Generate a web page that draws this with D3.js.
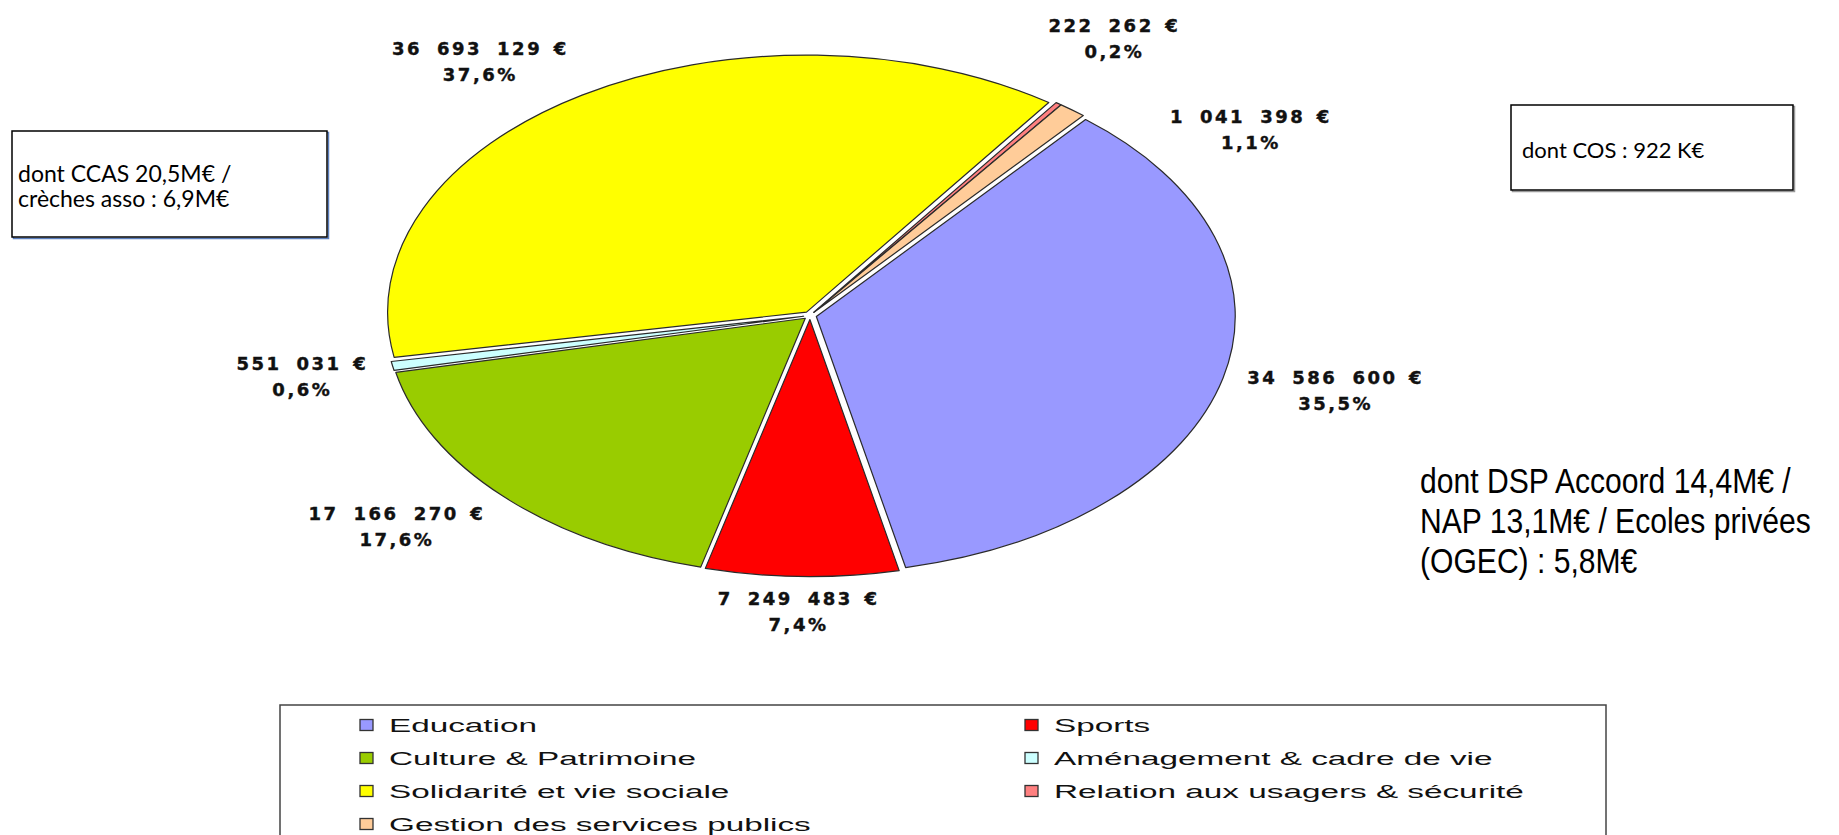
<!DOCTYPE html>
<html>
<head>
<meta charset="utf-8">
<script src="https://cdn.jsdelivr.net/npm/d3@7"></script>
<style>
  body { margin: 0; background: #fff; overflow: hidden; }
  svg { display: block; }
</style>
</head>
<body>
<svg id="chart" width="1839" height="835"></svg>
<script>
// Data
const categories = ["Education", "Sports", "Culture & Patrimoine", "Aménagement & cadre de vie",
                    "Solidarité et vie sociale", "Relation aux usagers & sécurité", "Gestion des services publics"];
const amounts = [34586600, 7249483, 17166270, 551031, 36693129, 222262, 1041398];
const colors = ["#9999ff", "#ff0000", "#99cc00", "#ccffff", "#ffff00", "#ff8080", "#ffcc99"];

const noteCCAS = ["dont CCAS 20,5M€ /", "crèches asso : 6,9M€"];
const noteCOS = ["dont COS : 922 K€"];
const noteDSP = ["dont DSP Accoord 14,4M€ /", "NAP 13,1M€ / Ecoles privées", "(OGEC) : 5,8M€"];

// Layout
const cx = 810, cy = 315.5, R = 257, sx = 1.63, explode = 4;
const startDeg = 40;

const svg = d3.select("#chart");

const rows = categories.map((c, i) => ({ name: c, amount: amounts[i], color: colors[i] }));
const total = d3.sum(amounts);

const a0 = startDeg * Math.PI / 180;
const pie = d3.pie().sort(null).value(d => d.amount).startAngle(a0).endAngle(a0 + 2 * Math.PI);
const arcs = pie(rows);
const arc = d3.arc().innerRadius(0).outerRadius(R);
const mid = d => (d.startAngle + d.endAngle) / 2;

// Pie (drawn as a circle, stretched horizontally)
const pieG = svg.append("g").attr("transform", `translate(${cx},${cy}) scale(${sx},1)`);
pieG.selectAll("path")
  .data(arcs)
  .join("path")
    .attr("transform", d => `translate(${Math.sin(mid(d)) * explode},${-Math.cos(mid(d)) * explode})`)
    .attr("d", arc)
    .attr("fill", d => d.data.color)
    .attr("stroke", "#2a2a2a")
    .attr("stroke-width", 1.2)
    .attr("stroke-linejoin", "round")
    .attr("vector-effect", "non-scaling-stroke");

// Value labels
const loc = d3.formatLocale({ decimal: ",", thousands: "\u2007", grouping: [3], currency: ["", ""] });
const fmtAmt = loc.format(",d");
const fmtPct = loc.format(".1f");

const boxH = 40, padX = 6, padY = 45;
const lblG = svg.append("g")
  .attr("font-family", "'DejaVu Sans', Verdana, sans-serif")
  .attr("font-weight", "bold")
  .attr("font-size", 18)
  .attr("letter-spacing", 2.5)
  .attr("fill", "#111")
  .attr("stroke", "#111")
  .attr("stroke-width", 0.4);

const labels = arcs.map(d => {
  const g = lblG.append("g");
  const t1 = g.append("text").attr("text-anchor", "middle").text(fmtAmt(d.data.amount) + "\u2002€");
  const t2 = g.append("text").attr("text-anchor", "middle").text(fmtPct(d.data.amount / total * 100) + "%");
  const w = Math.max(t1.node().getComputedTextLength(), t2.node().getComputedTextLength());
  return { g, t1, t2, w, a: mid(d), k: 1.075 };
});

function place(l) {
  const px = cx + Math.sin(l.a) * R * l.k * sx;
  const py = cy - Math.cos(l.a) * R * l.k;
  const fx = Math.max(-1, Math.min(1, 2 * Math.sin(l.a)));
  const fy = Math.max(-1, Math.min(1, 2 * Math.cos(l.a)));
  l.x = px + fx * l.w / 2;
  l.y = py - fy * boxH / 2;
}
function overlap(p, q) {
  return Math.abs(p.x - q.x) < (p.w + q.w) / 2 + padX && Math.abs(p.y - q.y) < boxH + padY;
}

labels.forEach(place);
// resolve collisions: earlier label moves back and outward, later one moves on along the rim
const step = Math.PI / 180;
for (let it = 0; it < 90; it++) {
  let moved = false;
  for (let i = 0; i < labels.length; i++) {
    for (let j = i + 1; j < labels.length; j++) {
      if (overlap(labels[i], labels[j])) {
        labels[i].a -= 0.4 * step;
        labels[i].k += 0.005;
        labels[j].a += step;
        place(labels[i]);
        place(labels[j]);
        moved = true;
      }
    }
  }
  if (!moved) break;
}

labels.forEach(l => {
  const top = l.y - boxH / 2;
  l.t1.attr("x", l.x).attr("y", top + 13);
  l.t2.attr("x", l.x).attr("y", top + 39);
});

// Legend
const legend = svg.append("g");
legend.append("rect")
  .attr("x", 280).attr("y", 705)
  .attr("width", 1326).attr("height", 160)
  .attr("fill", "#fff")
  .attr("stroke", "#444")
  .attr("stroke-width", 1.5);

const colX = d3.scaleOrdinal().domain([0, 1]).range([360, 1025]);
const rowY = d3.scaleLinear().domain([0, 1]).range([725, 758]);

const items = legend.selectAll("g.item")
  .data(rows)
  .join("g")
    .attr("class", "item")
    .attr("transform", (d, i) => `translate(${colX(i % 2)},${rowY(Math.floor(i / 2))})`);

items.append("rect")
  .attr("x", 0).attr("y", -5.5)
  .attr("width", 13).attr("height", 11)
  .attr("fill", d => d.color)
  .attr("stroke", "#333")
  .attr("stroke-width", 1.3);

items.append("text")
  .attr("transform", "translate(29,0) scale(1.85,1)")
  .attr("y", 6.5)
  .attr("font-family", "'Liberation Sans', Arial, sans-serif")
  .attr("font-size", 18)
  .attr("fill", "#111")
  .text(d => d.name);

// Note boxes
const boxCCAS = svg.append("g");
boxCCAS.append("rect")
  .attr("x", 13.5).attr("y", 132.5).attr("width", 315).attr("height", 106)
  .attr("fill", "none").attr("stroke", "#5b7fbf").attr("stroke-width", 1.5);
boxCCAS.append("rect")
  .attr("x", 12).attr("y", 131).attr("width", 315).attr("height", 106)
  .attr("fill", "#fff").attr("stroke", "#000").attr("stroke-width", 1.5);
boxCCAS.selectAll("text")
  .data(noteCCAS)
  .join("text")
    .attr("x", 18)
    .attr("y", (d, i) => 182 + i * 25)
    .attr("font-family", "Lato, 'Open Sans', sans-serif")
    .attr("font-size", 23)
    .attr("fill", "#000")
    .text(d => d);

const boxCOS = svg.append("g");
boxCOS.append("rect")
  .attr("x", 1512.5).attr("y", 106.5).attr("width", 282).attr("height", 85)
  .attr("fill", "none").attr("stroke", "#999").attr("stroke-width", 1.5);
boxCOS.append("rect")
  .attr("x", 1511).attr("y", 105).attr("width", 282).attr("height", 85)
  .attr("fill", "#fff").attr("stroke", "#000").attr("stroke-width", 1.5);
boxCOS.selectAll("text")
  .data(noteCOS)
  .join("text")
    .attr("x", 1522)
    .attr("y", 158)
    .attr("font-family", "Lato, 'Open Sans', sans-serif")
    .attr("font-size", 22)
    .attr("fill", "#000")
    .text(d => d);

// Condensed note on the right
svg.append("g").selectAll("text")
  .data(noteDSP)
  .join("text")
    .attr("transform", (d, i) => `translate(1420,${493 + i * 40}) scale(0.86,1)`)
    .attr("font-family", "'Liberation Sans', Arial, sans-serif")
    .attr("font-size", 35)
    .attr("fill", "#000")
    .text(d => d);
</script>
</body>
</html>
